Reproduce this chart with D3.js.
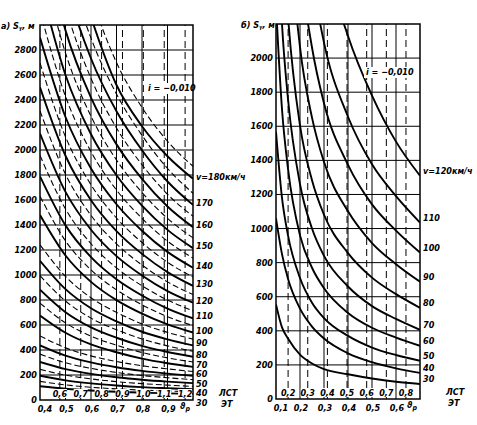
<!DOCTYPE html>
<html>
<head>
<meta charset="utf-8">
<script src="https://cdn.jsdelivr.net/npm/d3@7"></script>
<style>
  body { margin: 0; background: #fff; }
  text { font-family: "DejaVu Sans Condensed", "DejaVu Sans", sans-serif; font-style: italic; font-weight: bold; font-size: 9px; fill: #000; }
</style>
</head>
<body>
<div id="chart"></div>
<script>
// ---- panel а): ϑр (ЭТ) from 0,4 to 1,0, S up to 3000 m ----
const thetaLeft = [0.4, 0.5, 0.6, 0.7, 0.8, 0.9, 1.0];
const speedsLeftSolid = [30, 40, 50, 60, 70, 80, 90, 100, 110, 120, 130, 140, 150, 160, 170, 180];
const sLeftSolid = [
  [110, 90, 76, 66, 59, 53, 49],
  [194, 157, 133, 116, 103, 94, 86],
  [304, 247, 209, 182, 162, 147, 135],
  [437, 355, 301, 262, 233, 211, 194],
  [676, 538, 445, 382, 331, 294, 265],
  [882, 702, 581, 498, 433, 384, 346],
  [1114, 887, 734, 629, 546, 485, 437],
  [1480, 1156, 945, 799, 691, 605, 540],
  [1789, 1397, 1143, 966, 836, 731, 653],
  [2132, 1665, 1362, 1151, 996, 871, 778],
  [2502, 1954, 1598, 1351, 1169, 1023, 913],
  [2899, 2264, 1852, 1566, 1354, 1185, 1058],
  [3329, 2600, 2126, 1798, 1555, 1361, 1215],
  [3787, 2957, 2419, 2045, 1769, 1548, 1382],
  [4277, 3341, 2732, 2310, 1998, 1748, 1561],
  [4795, 3745, 3063, 2520, 2190, 1950, 1770]
];
const speedsLeftDashed = [35, 45, 55, 65, 75, 85, 95, 105, 115, 125, 135, 145, 155, 165, 175, 185];
const sLeftDashed = [
  [149, 121, 102, 89, 79, 72, 66],
  [245, 199, 169, 147, 131, 119, 109],
  [367, 298, 253, 220, 196, 178, 163],
  [513, 417, 353, 308, 274, 249, 228],
  [775, 617, 511, 438, 380, 337, 304],
  [995, 792, 655, 562, 488, 433, 390],
  [1242, 989, 818, 701, 609, 541, 487],
  [1630, 1273, 1041, 881, 762, 666, 595],
  [1956, 1528, 1250, 1057, 914, 800, 714],
  [2313, 1806, 1477, 1249, 1080, 945, 844],
  [2696, 2106, 1722, 1456, 1260, 1102, 984],
  [3110, 2429, 1986, 1680, 1453, 1271, 1135],
  [3554, 2776, 2270, 1920, 1660, 1453, 1297],
  [4028, 3146, 2573, 2176, 1882, 1646, 1470],
  [4532, 3540, 2895, 2448, 2117, 1852, 1654],
  [5064, 3955, 3234, 2700, 2340, 2070, 1870]
];
const yTicksLeft = [0, 200, 400, 600, 800, 1000, 1200, 1400, 1600, 1800, 2000, 2200, 2400, 2600, 2800];
const etTicksLeft = [0.4, 0.5, 0.6, 0.7, 0.8, 0.9];
const lstTicksLeft = [0.6, 0.7, 0.8, 0.9, 1.0, 1.1, 1.2];

// ---- panel б): ϑр (ЭТ) from 0,1 to 0,7, S up to 2200 m ----
const thetaRight = [0.1, 0.125, 0.15, 0.2, 0.25, 0.3, 0.4, 0.5, 0.6, 0.7];
const speedsRight = [30, 40, 50, 60, 70, 80, 90, 100, 110, 120];
const sRight = [
  [555, 420, 355, 260, 208, 175, 145, 120, 101, 88],
  [1060, 850, 705, 530, 425, 355, 268, 216, 180, 153],
  [1568, 1180, 960, 710, 565, 475, 370, 302, 258, 224],
  [2309, 1700, 1350, 960, 770, 650, 505, 418, 360, 312],
  [3004, 2200, 1760, 1260, 1000, 840, 660, 545, 470, 406],
  [3959, 2836, 2247, 1605, 1284, 1081, 856, 712, 615, 535],
  [5091, 3646, 2890, 2064, 1651, 1390, 1101, 915, 791, 688],
  [6357, 4553, 3608, 2577, 2062, 1735, 1374, 1142, 988, 859],
  [7659, 5486, 4347, 3105, 2484, 2091, 1656, 1377, 1190, 1035],
  [9664, 6922, 5485, 3918, 3134, 2638, 2130, 1780, 1510, 1310]
];
const yTicksRight = [0, 200, 400, 600, 800, 1000, 1200, 1400, 1600, 1800, 2000];
const etTicksRight = [0.1, 0.2, 0.3, 0.4, 0.5, 0.6];
const lstTicksRight = [0.2, 0.3, 0.4, 0.5, 0.6, 0.7, 0.8];

// ЛСТ scale expressed through ЭТ: ЛСТ 0,5 ~ ЭТ 0,396, ЛСТ 1,2 ~ ЭТ 0,969
const lstToEt = [[0.5, 0.396], [1.2, 0.969]];

const width = 477, height = 425;
const svg = d3.select("#chart").append("svg").attr("width", width).attr("height", height);

const fmt = d => d.toFixed(1).replace(".", ",");

function drawPanel(opt) {
  const x = d3.scaleLinear().domain(opt.xDomain).range(opt.xRange);
  const y = d3.scaleLinear().domain(opt.yDomain).range(opt.yRange);
  const etOf = d3.scaleLinear().domain(lstToEt.map(d => d[0])).range(lstToEt.map(d => d[1]));
  const xl = v => x(etOf(v));
  const [x0, x1] = opt.xRange, [y0, y1] = opt.yRange;
  const g = svg.append("g");

  g.append("clipPath").attr("id", opt.id + "-clip")
    .append("rect").attr("x", x0).attr("y", y1).attr("width", x1 - x0).attr("height", y0 - y1);

  // grid
  g.selectAll(".hg").data(opt.yTicks.filter(d => d > 0)).join("line")
    .attr("x1", x0).attr("x2", x1).attr("y1", d => y(d)).attr("y2", d => y(d))
    .attr("stroke", "#000").attr("stroke-width", 1);
  g.selectAll(".vg").data(opt.etTicks.slice(1)).join("line")
    .attr("x1", d => x(d)).attr("x2", d => x(d)).attr("y1", y0).attr("y2", y1)
    .attr("stroke", "#000").attr("stroke-width", 1);
  g.selectAll(".vd").data(opt.lstTicks).join("line")
    .attr("x1", d => xl(d)).attr("x2", d => xl(d)).attr("y1", y0).attr("y2", y1)
    .attr("stroke", "#000").attr("stroke-width", 1).attr("stroke-dasharray", "7,4");

  // curves
  const curves = g.append("g").attr("clip-path", `url(#${opt.id}-clip)`);
  const line = d3.line().x((d, i) => x(opt.theta[i])).y(d => y(d)).curve(d3.curveMonotoneX);
  if (opt.dashed) {
    curves.selectAll(".dc").data(opt.dashed).join("path")
      .attr("d", line).attr("fill", "none").attr("stroke", "#000")
      .attr("stroke-width", 1.1).attr("stroke-dasharray", "6,3");
  }
  curves.selectAll(".sc").data(opt.solid).join("path")
    .attr("d", line).attr("fill", "none").attr("stroke", "#000").attr("stroke-width", 1.9);

  // frame
  g.append("rect").attr("x", x0).attr("y", y1).attr("width", x1 - x0).attr("height", y0 - y1)
    .attr("fill", "none").attr("stroke", "#000").attr("stroke-width", 1.5);

  // y ticks
  g.selectAll(".yt").data(opt.yTicks).join("text")
    .attr("x", x0 - 3).attr("y", d => y(d) + 3).attr("text-anchor", "end").text(d => d);

  // bottom ЭТ labels
  g.selectAll(".xt").data(opt.etTicks).join("text")
    .attr("x", d => Math.max(x(d) + 1, x0 + 5)).attr("y", y0 + 12)
    .attr("text-anchor", "middle").text(fmt);
  const th = g.append("text").attr("x", x1 - 8).attr("y", y0 + 9).attr("text-anchor", "middle")
    .attr("font-size", 11);
  th.append("tspan").text("ϑ");
  th.append("tspan").attr("font-size", 7).attr("dy", 2).text("р");

  // inner ЛСТ labels
  const lg = g.selectAll(".lt").data(opt.lstTicks).join("g")
    .attr("transform", d => `translate(${xl(d)},${y0 - 6})`);
  lg.append("rect").attr("x", -7).attr("y", -5).attr("width", 14).attr("height", 9).attr("fill", "#fff");
  lg.append("text").attr("text-anchor", "middle").attr("y", 3).text(fmt);

  g.append("text").attr("x", x1 + 26).attr("y", y0 - 4).text("ЛСТ");
  g.append("text").attr("x", x1 + 28).attr("y", y0 + 7).text("ЭТ");

  // grade note
  const ig = g.append("g").attr("transform", `translate(${opt.noteX},${opt.noteY})`);
  ig.append("rect").attr("x", -2).attr("y", -8).attr("width", 46).attr("height", 11).attr("fill", "#fff");
  ig.append("text").attr("x", 0).attr("y", 0).text("i = −0,010");

  // speed labels at right ends, pushed apart where crowded
  const ends = opt.speeds.map((v, i) => ({ v, y: y(opt.solid[i][opt.solid[i].length - 1]) + opt.labelShift }));
  ends.sort((a, b) => a.y - b.y);
  for (let i = 1; i < ends.length; i++) ends[i].y = Math.max(ends[i].y, ends[i - 1].y + 9.5);
  const top = ends[0];
  g.selectAll(".sl").data(ends).join("text")
    .attr("x", x1 + 3).attr("y", d => d.y + 3).attr("font-size", 8.5)
    .text(d => d === top ? `v=${d.v}км/ч` : d.v);

  // title
  const t = g.append("text").attr("x", opt.titleX).attr("y", y1 + 4).attr("font-size", 10);
  t.append("tspan").text(opt.letter + " S");
  t.append("tspan").attr("font-size", 6.5).attr("dy", 2).text("т");
  t.append("tspan").attr("dy", -2).text(", м");
}

drawPanel({
  id: "a", letter: "а)", titleX: 1,
  xDomain: [0.4, 1.0], xRange: [40, 193], yDomain: [0, 3000], yRange: [400, 25],
  theta: thetaLeft, solid: sLeftSolid, dashed: sLeftDashed, speeds: speedsLeftSolid,
  yTicks: yTicksLeft, etTicks: etTicksLeft, lstTicks: lstTicksLeft,
  noteX: 148, noteY: 91, labelShift: -2
});

drawPanel({
  id: "b", letter: "б)", titleX: 241,
  xDomain: [0.1, 0.7], xRange: [276, 420], yDomain: [0, 2200], yRange: [399, 24],
  theta: thetaRight, solid: sRight, dashed: null, speeds: speedsRight,
  yTicks: yTicksRight, etTicks: etTicksRight, lstTicks: lstTicksRight,
  noteX: 366, noteY: 75, labelShift: -5
});
</script>
</body>
</html>
